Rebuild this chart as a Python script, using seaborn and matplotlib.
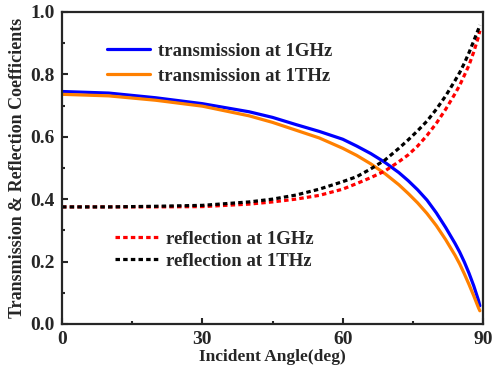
import matplotlib
matplotlib.use("Agg")
import matplotlib.pyplot as plt
import seaborn as sns
import pandas as pd
from matplotlib.ticker import MultipleLocator

angle = [0, 10, 20, 30, 40, 45, 50, 55, 60, 63, 66, 69, 72, 74, 76, 78, 80, 82, 84, 85, 86, 87, 88, 89, 89.3]
trans_1ghz = [0.745, 0.740, 0.725, 0.706, 0.680, 0.662, 0.639, 0.617, 0.592, 0.570, 0.546, 0.518, 0.485,
              0.459, 0.430, 0.397, 0.356, 0.309, 0.258, 0.230, 0.198, 0.162, 0.122, 0.076, 0.058]
trans_1thz = [0.736, 0.731, 0.717, 0.698, 0.667, 0.646, 0.621, 0.596, 0.563, 0.540, 0.513, 0.482, 0.446,
              0.418, 0.388, 0.354, 0.315, 0.270, 0.220, 0.192, 0.160, 0.126, 0.090, 0.052, 0.042]
refl_1ghz = [0.375, 0.375, 0.375, 0.376, 0.384, 0.391, 0.400, 0.412, 0.432, 0.450, 0.469, 0.490, 0.520,
             0.542, 0.570, 0.604, 0.643, 0.688, 0.738, 0.765, 0.797, 0.830, 0.872, 0.920, 0.940]
refl_1thz = [0.375, 0.375, 0.377, 0.380, 0.391, 0.400, 0.413, 0.432, 0.456, 0.472, 0.497, 0.525, 0.563,
             0.590, 0.619, 0.650, 0.688, 0.731, 0.780, 0.806, 0.836, 0.870, 0.907, 0.945, 0.958]

labels = ["transmission at 1GHz", "transmission at 1THz", "reflection at 1GHz", "reflection at 1THz"]
x_ticks = [0, 30, 60, 90]
y_ticks = [0.0, 0.2, 0.4, 0.6, 0.8, 1.0]

sns.set_style("ticks")
plt.rcParams["font.family"] = ["Liberation Serif", "DejaVu Serif"]
plt.rcParams["font.weight"] = "bold"
plt.rcParams["axes.labelweight"] = "bold"

fig = plt.figure(figsize=(4.96, 3.74), dpi=100)
ax = fig.add_axes([0.125, 0.134, 0.849, 0.834])

df = pd.DataFrame({"angle": angle, "t1": trans_1ghz, "t2": trans_1thz, "r1": refl_1ghz, "r2": refl_1thz})
lw = 2.3
dash = (0, (1.4, 1.0))
sns.lineplot(data=df, x="angle", y="t1", ax=ax, color="#0000ff", linewidth=lw, label=labels[0])
sns.lineplot(data=df, x="angle", y="t2", ax=ax, color="#ff8000", linewidth=lw, label=labels[1])
sns.lineplot(data=df, x="angle", y="r1", ax=ax, color="#ff0000", linewidth=lw, linestyle=dash, label=labels[2])
sns.lineplot(data=df, x="angle", y="r2", ax=ax, color="#000000", linewidth=lw, linestyle=dash, label=labels[3])

ax.set_xlim(0, 90)
ax.set_ylim(0, 1.0)
ax.set_xticks(x_ticks)
ax.set_yticks(y_ticks)
ax.set_xticklabels([str(v) for v in x_ticks])
ax.set_yticklabels([f"{v:.1f}" for v in y_ticks])
ax.xaxis.set_minor_locator(MultipleLocator(15))
ax.yaxis.set_minor_locator(MultipleLocator(0.1))
ax.tick_params(which="both", direction="in", width=1.5, labelsize=14, pad=5)
ax.tick_params(which="major", length=4)
ax.tick_params(which="minor", length=2.5)
for s in ax.spines.values():
    s.set_linewidth(1.6)

ax.set_xlabel("Incident Angle(deg)", fontsize=12.5, fontweight="bold", labelpad=1)
ax.set_ylabel("Transmission & Reflection Coefficients", fontsize=13, fontweight="bold", labelpad=3)

lines = ax.get_lines()
leg1 = ax.legend(lines[0:2], labels[0:2], loc="upper left", bbox_to_anchor=(0.067, 0.955), frameon=False,
                 prop={"size": 13.5, "weight": "bold"}, handlelength=2.3, handletextpad=0.4, labelspacing=0.4)
ax.add_artist(leg1)
ax.legend(lines[2:4], labels[2:4], loc="upper left", bbox_to_anchor=(0.086, 0.353), frameon=False,
          prop={"size": 13.5, "weight": "bold"}, handlelength=2.3, handletextpad=0.4, labelspacing=0.27)

fig.savefig("out.png", dpi=100)
